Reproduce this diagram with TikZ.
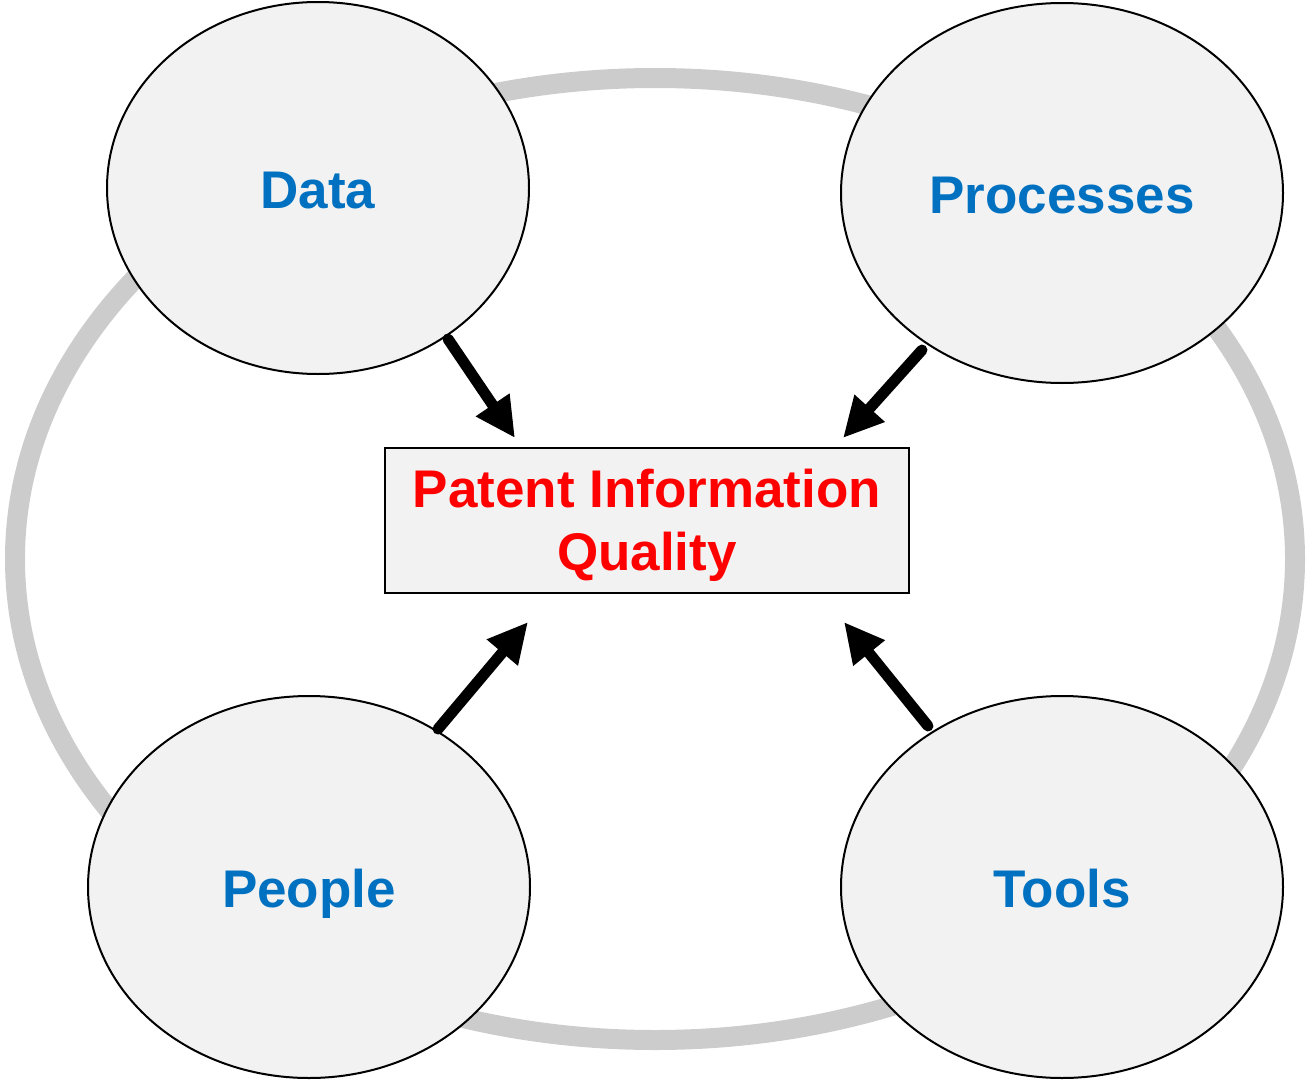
\documentclass[tikz,border=0pt]{standalone}
\usepackage{fontspec}
\setmainfont{Liberation Sans}
\usetikzlibrary{arrows.meta,shapes.geometric}
\definecolor{ringgray}{HTML}{CCCCCC}
\definecolor{bubblefill}{HTML}{F2F2F2}
\definecolor{labelblue}{HTML}{0070C0}
\definecolor{qred}{HTML}{FF0000}
\tikzset{
  bubble/.style={ellipse, draw=black, line width=2pt, fill=bubblefill, inner sep=0pt},
  bubbletext/.style={text=labelblue, font=\fontsize{53}{60}\selectfont\bfseries, anchor=base, inner sep=0pt},
  centerbox/.style={draw=black, line width=1.6pt, fill=bubblefill, minimum width=524pt, minimum height=145pt, inner sep=0pt},
  boxtext/.style={align=center, text=qred, font=\fontsize{53}{63}\selectfont\bfseries, inner sep=0pt},
  bigarrow/.style={line width=11pt, line cap=round, -{Triangle[length=40pt,width=38pt]}}
}
\begin{document}
\begin{tikzpicture}[x=1pt,y=-1pt]
\useasboundingbox (0,0) rectangle (1307,1081);
% ring
\draw[ringgray, line width=20pt] (655,559) ellipse [x radius=640, y radius=481];
% bubbles
\node[bubble, minimum width=422pt, minimum height=372pt] (data) at (318,188) {};
\node[bubble, minimum width=442pt, minimum height=380pt] (proc) at (1062,193) {};
\node[bubble, minimum width=442pt, minimum height=382pt] (people) at (309,887) {};
\node[bubble, minimum width=442pt, minimum height=382pt] (tools) at (1062,887) {};
\node[bubbletext] (datat) at (318,208) {Data};
\node[bubbletext] (proct) at (1062,213) {Processes};
\node[bubbletext] (peoplet) at (309,907) {People};
\node[bubbletext] (toolst) at (1062,907) {Tools};
% center box
\node[centerbox] (pq) at (647,520.5) {};
\node[boxtext] (pqt) at ([yshift=-5pt]pq.center) {Patent Information\\Quality};
% arrow ends
\coordinate (a1) at (448,339);
\coordinate (t1) at (515,438);
\coordinate (a2) at (922,350);
\coordinate (t2) at (843,438);
\coordinate (a3) at (438,729);
\coordinate (t3) at (528,622);
\coordinate (a4) at (928,726);
\coordinate (t4) at (844,622);
\draw[bigarrow] (a1) -- (t1);
\draw[bigarrow] (a2) -- (t2);
\draw[bigarrow] (a3) -- (t3);
\draw[bigarrow] (a4) -- (t4);
\end{tikzpicture}
\end{document}
